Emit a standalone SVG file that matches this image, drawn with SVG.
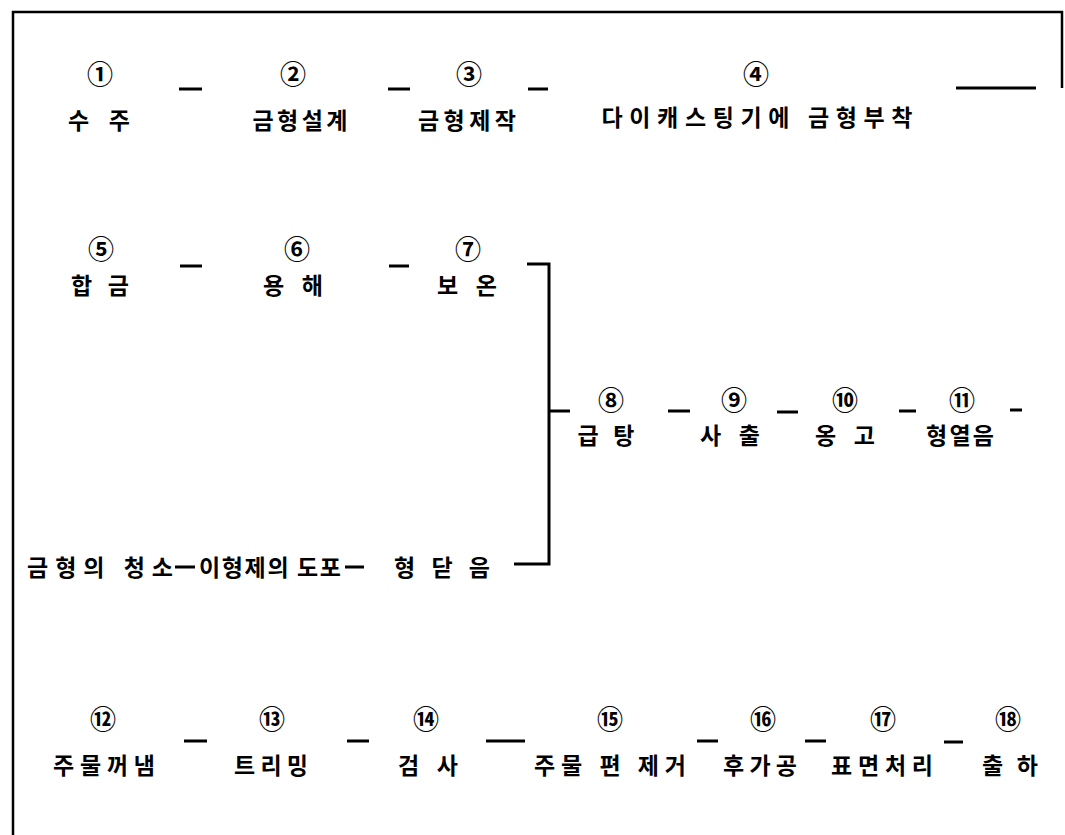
<svg xmlns="http://www.w3.org/2000/svg" width="1065" height="835" viewBox="0 0 1065 835">
<style>
.num{font-family:"Noto Sans CJK KR","Noto Sans",sans-serif;font-size:26px;font-weight:700;text-anchor:middle;dominant-baseline:central;fill:#000}
.lbl{font-family:"Noto Sans CJK KR",sans-serif;font-size:23px;font-weight:700;text-anchor:middle;dominant-baseline:central;fill:#000}
.ln{stroke:#000;stroke-width:3;fill:none}
.fr{stroke:#000;stroke-width:2.5;fill:none}
</style>
<rect width="1065" height="835" fill="#fff"/>
<g id="frame">
<path class="fr" d="M13,835 V12 H1062 V88"/>
</g>
<g id="connectors">
<line class="ln" x1="179" y1="89" x2="202" y2="89"/>
<line class="ln" x1="388" y1="89" x2="410" y2="89"/>
<line class="ln" x1="528" y1="89" x2="548" y2="89"/>
<line class="ln" x1="956" y1="88" x2="1036" y2="88"/>
<line class="ln" x1="180" y1="266" x2="202" y2="266"/>
<line class="ln" x1="389" y1="266" x2="409" y2="266"/>
<path class="ln" d="M527,264 H549 V564 H514"/>
<line class="ln" x1="549" y1="411" x2="570" y2="411"/>
<line class="ln" x1="668" y1="411" x2="690" y2="411"/>
<line class="ln" x1="777" y1="412" x2="798" y2="412"/>
<line class="ln" x1="899" y1="411" x2="916" y2="411"/>
<line class="ln" x1="1010" y1="410" x2="1022" y2="410"/>
<line class="ln" x1="175" y1="567" x2="195" y2="567"/>
<line class="ln" x1="345" y1="567" x2="364" y2="567"/>
<line class="ln" x1="184" y1="741" x2="207" y2="741"/>
<line class="ln" x1="347" y1="741" x2="369" y2="741"/>
<line class="ln" x1="486" y1="741" x2="525" y2="741"/>
<line class="ln" x1="697" y1="741" x2="718" y2="741"/>
<line class="ln" x1="805" y1="741" x2="826" y2="741"/>
<line class="ln" x1="944" y1="742" x2="963" y2="742"/>
</g>
<g id="n1"><text class="num" x="100" y="72">①</text><text class="lbl" x="99" y="119" textLength="62" lengthAdjust="spacing">수 주</text></g>
<g id="n2"><text class="num" x="293" y="72">②</text><text class="lbl" x="300" y="119" textLength="95" lengthAdjust="spacing">금형설계</text></g>
<g id="n3"><text class="num" x="469" y="72">③</text><text class="lbl" x="467" y="119" textLength="98" lengthAdjust="spacing">금형제작</text></g>
<g id="n4"><text class="num" x="756" y="72">④</text><text class="lbl" x="757" y="116" textLength="311" lengthAdjust="spacing">다이캐스팅기에 금형부착</text></g>
<g id="n5"><text class="num" x="101" y="247">⑤</text><text class="lbl" x="100" y="284" textLength="58" lengthAdjust="spacing">합 금</text></g>
<g id="n6"><text class="num" x="297" y="247">⑥</text><text class="lbl" x="293" y="284" textLength="60" lengthAdjust="spacing">용 해</text></g>
<g id="n7"><text class="num" x="468" y="247">⑦</text><text class="lbl" x="467" y="284" textLength="60" lengthAdjust="spacing">보 온</text></g>
<g id="n8"><text class="num" x="611" y="398">⑧</text><text class="lbl" x="606" y="434" textLength="57" lengthAdjust="spacing">급 탕</text></g>
<g id="n9"><text class="num" x="734" y="398">⑨</text><text class="lbl" x="730" y="434" textLength="60" lengthAdjust="spacing">사 출</text></g>
<g id="n10"><text class="num" x="845" y="398">⑩</text><text class="lbl" x="845" y="434" textLength="60" lengthAdjust="spacing">옹 고</text></g>
<g id="n11"><text class="num" x="962" y="398">⑪</text><text class="lbl" x="960" y="434" textLength="68" lengthAdjust="spacing">형열음</text></g>
<g id="s1"><text class="lbl" x="100" y="566" textLength="146" lengthAdjust="spacing">금형의 청소</text></g>
<g id="s2"><text class="lbl" x="270" y="566" textLength="142" lengthAdjust="spacing">이형제의 도포</text></g>
<g id="s3"><text class="lbl" x="442" y="566" textLength="96" lengthAdjust="spacing">형닫음</text></g>
<g id="n12"><text class="num" x="103" y="717">⑫</text><text class="lbl" x="104" y="764" textLength="102" lengthAdjust="spacing">주물꺼냄</text></g>
<g id="n13"><text class="num" x="272" y="717">⑬</text><text class="lbl" x="271" y="764" textLength="74" lengthAdjust="spacing">트리밍</text></g>
<g id="n14"><text class="num" x="426" y="717">⑭</text><text class="lbl" x="428" y="764" textLength="60" lengthAdjust="spacing">검 사</text></g>
<g id="n15"><text class="num" x="610" y="717">⑮</text><text class="lbl" x="610" y="764" textLength="152" lengthAdjust="spacing">주물 편 제거</text></g>
<g id="n16"><text class="num" x="763" y="717">⑯</text><text class="lbl" x="760" y="764" textLength="74" lengthAdjust="spacing">후가공</text></g>
<g id="n17"><text class="num" x="883" y="717">⑰</text><text class="lbl" x="882" y="764" textLength="102" lengthAdjust="spacing">표면처리</text></g>
<g id="n18"><text class="num" x="1008" y="717">⑱</text><text class="lbl" x="1010" y="764" textLength="56" lengthAdjust="spacing">출 하</text></g>
</svg>
